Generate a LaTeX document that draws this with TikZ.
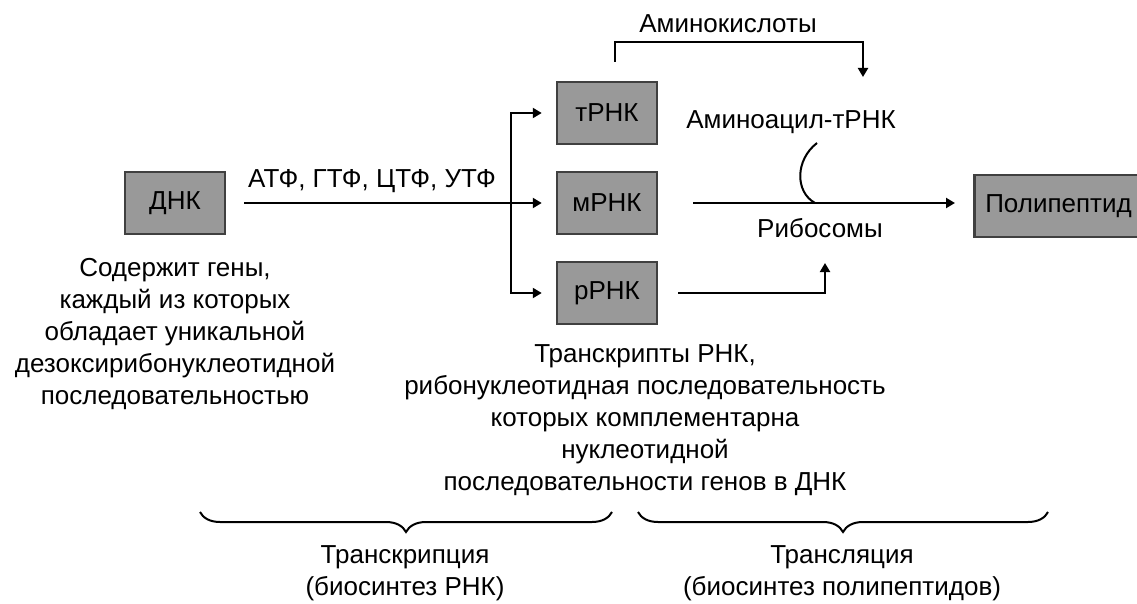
\documentclass[tikz,border=0pt]{standalone}
\usepackage{fontspec}
\setmainfont{Liberation Sans}
\usetikzlibrary{arrows.meta,decorations.pathreplacing}

\tikzset{
    rnabox/.style={draw=black!75, line width=2.5pt, fill=black!40, minimum width=100pt, minimum height=62pt, inner sep=0pt},
    arr/.style={line width=2pt, -{Triangle[length=9pt,width=10pt]}},
    link/.style={line width=2pt},
    note/.style={align=center, inner sep=0pt},
    curly/.style={line width=2pt, decorate, decoration={brace, amplitude=20pt, mirror}}
}
\newcommand{\diagfont}{\fontsize{26}{32}\selectfont}

\begin{document}
\begin{tikzpicture}[x=1pt, y=-1pt, font=\diagfont]
    \useasboundingbox (0,0) rectangle (1137,604);
    \clip (0,0) rectangle (1137,604);

    % Boxes
    \node[rnabox] (dna) at (175,203) {ДНК};
    \node[rnabox] (trna) at (607,113) {тРНК};
    \node[rnabox] (mrna) at (607,203) {мРНК};
    \node[rnabox] (rrna) at (607,293) {рРНК};
    \node[rnabox, anchor=west, minimum width=0pt, inner xsep=11pt] (poly) at (973,206) {Полипептид};

    % Labels
    \node[note] (aa) at (728,24) {Аминокислоты};
    \node[note] (aatrna) at (791,122) {Аминоацил-тРНК};
    \node[note] (ribo) at (820,228) {Рибосомы};
    \node[note] (ntp) at (372,181) {АТФ, ГТФ, ЦТФ, УТФ};
    \node[note] (genes) at (175,334) {Содержит гены,\\каждый из которых\\обладает уникальной\\дезоксирибонуклеотидной\\последовательностью};
    \node[note] (transcripts) at (645,420) {Транскрипты РНК,\\рибонуклеотидная последовательность\\которых комплементарна\\нуклеотидной\\последовательности генов в ДНК};
    \node[note] (tsc) at (405,573) {Транскрипция\\(биосинтез РНК)};
    \node[note] (tsl) at (842,573) {Трансляция\\(биосинтез полипептидов)};

    % Free ends
    \coordinate (branch) at (511,203);
    \coordinate (aaL) at (615,62);
    \coordinate (aaR) at (863,77);
    \coordinate (riboIn) at (825,263);
    \coordinate (arcTop) at (817,143);
    \coordinate (arcBot) at (815,203);
    \coordinate (tscL) at (200,512);
    \coordinate (tscR) at (612,512);
    \coordinate (tslL) at (638,512);
    \coordinate (tslR) at (1048,512);

    % Edges
    \draw[arr, shorten <=18pt, shorten >=14pt] (dna) -- (mrna);
    \draw[arr, shorten >=14pt] (branch) |- (trna.west);
    \draw[arr, shorten >=14pt] (branch) |- (rrna.west);
    \draw[arr, shorten <=35pt, shorten >=18pt] (mrna) -- (mrna -| poly.west);
    \draw[arr, shorten <=20pt] (rrna.east) -| (riboIn);
    \draw[arr] (aaL) -- ++(0,-20) -| (aaR);
    \draw[link] (arcTop) .. controls (795,160) and (795,192) .. (arcBot);

    % Braces
    \draw[curly] (tscL) -- (tscR);
    \draw[curly] (tslL) -- (tslR);
\end{tikzpicture}
\end{document}
